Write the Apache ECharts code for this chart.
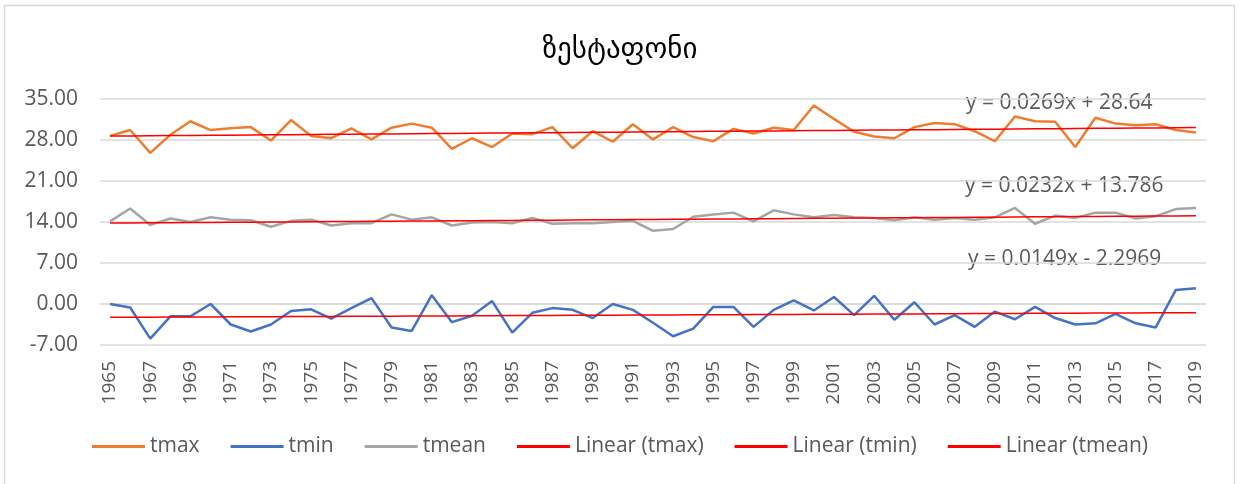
<!DOCTYPE html>
<html>
<head>
<meta charset="utf-8">
<script src="https://cdn.jsdelivr.net/npm/echarts@6/dist/echarts.min.js"></script>
<style>
  html, body { margin: 0; padding: 0; background: #fff; }
  #chart { width: 1240px; height: 484px; }
</style>
</head>
<body>
<div id="chart"></div>
<script>
// Annual temperatures, Zestaponi station, 1965–2019
const years = [];
for (let y = 1965; y <= 2019; y++) years.push(String(y));

const tmax = [
  28.7, 29.7, 25.8, 28.9, 31.2, 29.7, 30.0, 30.2, 27.9, 31.4,
  28.7, 28.3, 30.0, 28.1, 30.1, 30.8, 30.1, 26.5, 28.3, 26.8,
  29.1, 29.0, 30.2, 26.6, 29.5, 27.7, 30.7, 28.1, 30.2, 28.5,
  27.8, 29.9, 29.1, 30.1, 29.7, 33.9, 31.6, 29.4, 28.6, 28.3,
  30.2, 30.9, 30.7, 29.5, 27.8, 32.0, 31.2, 31.1, 26.8, 31.8,
  30.8, 30.5, 30.7, 29.7, 29.3
];

const tmin = [
  0.0, -0.6, -5.9, -2.1, -2.1, 0.0, -3.5, -4.7, -3.5, -1.2,
  -0.9, -2.5, -0.7, 1.0, -4.0, -4.6, 1.5, -3.1, -2.0, 0.5,
  -4.9, -1.5, -0.7, -1.0, -2.4, 0.0, -1.0, -3.2, -5.5, -4.2,
  -0.5, -0.5, -3.9, -1.0, 0.6, -1.1, 1.2, -1.9, 1.4, -2.7,
  0.3, -3.5, -1.9, -3.9, -1.3, -2.6, -0.5, -2.4, -3.5, -3.3,
  -1.7, -3.3, -4.0, 2.4, 2.7
];

const tmean = [
  14.1, 16.3, 13.5, 14.6, 14.0, 14.8, 14.4, 14.3, 13.2, 14.2,
  14.4, 13.4, 13.8, 13.8, 15.3, 14.4, 14.8, 13.4, 13.9, 14.0,
  13.8, 14.7, 13.7, 13.8, 13.8, 14.0, 14.2, 12.5, 12.8, 14.9,
  15.3, 15.6, 14.1, 16.0, 15.3, 14.8, 15.2, 14.8, 14.7, 14.3,
  14.8, 14.4, 14.7, 14.4, 14.8, 16.4, 13.7, 15.1, 14.7, 15.6,
  15.6, 14.6, 15.0, 16.2, 16.4
];

// Linear trend coefficients (x = 1 for 1965): tmax, tmin, tmean
const trendSlope = [0.0269, 0.0149, 0.0232];
const trendIntercept = [28.64, -2.2969, 13.786];
const trendText = ['y = 0.0269x + 28.64', 'y = 0.0149x - 2.2969', 'y = 0.0232x + 13.786'];

const yTicks = [-7, 0, 7, 14, 21, 28, 35];
const title = 'ზესტაფონი';
const legendNames = ['tmax', 'tmin', 'tmean', 'Linear (tmax)', 'Linear (tmin)', 'Linear (tmean)'];

function trendLine(k) {
  return years.map((_, i) => +(trendIntercept[k] + trendSlope[k] * (i + 1)).toFixed(4));
}

const textColor = '#595959';
const baseFont = '"Open Sans", "Noto Sans", sans-serif';

const chart = echarts.init(document.getElementById('chart'), null, { renderer: 'canvas' });

const lineSeries = (name, data, color, width, z) => ({
  name, type: 'line', data, symbol: 'none', z,
  lineStyle: { color, width },
  itemStyle: { color },
  emphasis: { disabled: true },
  animation: false
});

chart.setOption({
  backgroundColor: '#ffffff',
  animation: false,
  title: {
    text: title,
    left: 'center',
    top: 31,
    textStyle: { fontFamily: '"DejaVu Sans", sans-serif', fontSize: 29, fontWeight: 'normal', color: '#000' }
  },
  grid: { left: 100, right: 34, top: 99, bottom: 139, containLabel: false },
  legend: {
    bottom: 22,
    left: 'center',
    itemWidth: 53,
    itemHeight: 3,
    itemGap: 31,
    icon: 'rect',
    textStyle: { color: textColor, fontSize: 21, fontFamily: baseFont },
    data: legendNames
  },
  xAxis: {
    type: 'category',
    data: years,
    boundaryGap: true,
    axisLine: { show: true, lineStyle: { color: '#D9D9D9', width: 1.5 } },
    axisTick: { show: false },
    axisLabel: {
      interval: 1,
      rotate: 90,
      margin: 16,
      color: textColor,
      fontSize: 19,
      fontFamily: baseFont
    }
  },
  yAxis: {
    type: 'value',
    min: yTicks[0],
    max: yTicks[yTicks.length - 1],
    interval: 7,
    axisLine: { show: false },
    axisTick: { show: false },
    splitLine: { lineStyle: { color: '#D9D9D9', width: 1.5 } },
    axisLabel: {
      margin: 22,
      color: textColor,
      fontSize: 21,
      fontFamily: baseFont,
      formatter: v => v.toFixed(2)
    }
  },
  series: [
    lineSeries('tmax', tmax, '#ED7D31', 2.5, 2),
    lineSeries('tmin', tmin, '#4472C4', 2.5, 2),
    lineSeries('tmean', tmean, '#A5A5A5', 2.5, 2),
    lineSeries('Linear (tmax)', trendLine(0), '#FF0000', 1.5, 3),
    lineSeries('Linear (tmin)', trendLine(1), '#FF0000', 1.5, 3),
    lineSeries('Linear (tmean)', trendLine(2), '#FF0000', 1.5, 3)
  ],
  graphic: [
    {
      type: 'rect', silent: true, z: -1,
      shape: { x: 4.5, y: 5.5, width: 1230, height: 500 },
      style: { fill: null, stroke: '#D9D9D9', lineWidth: 1.5 }
    },
    {
      type: 'text', left: 966, top: 93, silent: true,
      style: { text: trendText[0], fill: textColor, fontSize: 21, fontFamily: baseFont }
    },
    {
      type: 'text', left: 965, top: 176, silent: true,
      style: { text: trendText[2], fill: textColor, fontSize: 21, fontFamily: baseFont }
    },
    {
      type: 'text', left: 968, top: 249, silent: true,
      style: { text: trendText[1], fill: textColor, fontSize: 21, fontFamily: baseFont }
    }
  ]
});
</script>
</body>
</html>
